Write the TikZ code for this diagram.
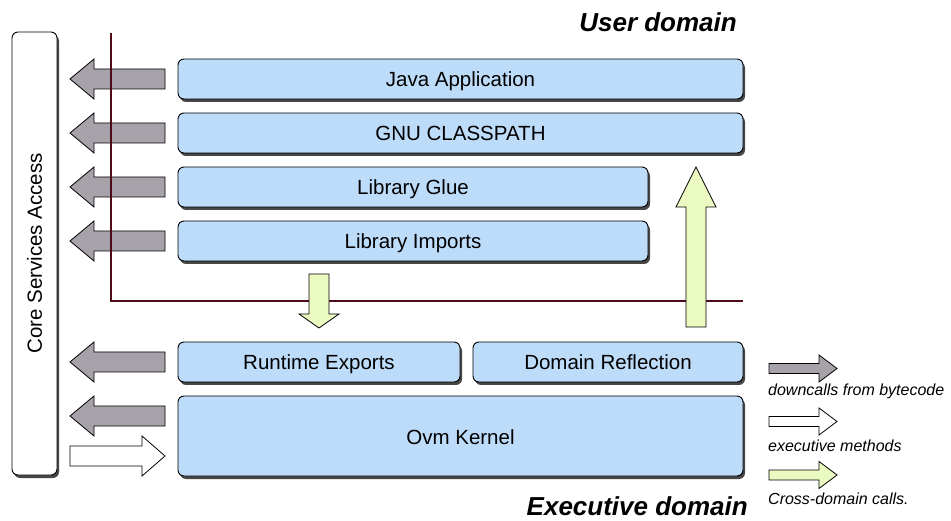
\documentclass[tikz,border=0pt]{standalone}
\usepackage{fontspec}
\setmainfont{Liberation Sans}
\usetikzlibrary{shadows}
\definecolor{boxblue}{HTML}{BDDCFA}
\definecolor{downgray}{HTML}{A7A2A9}
\definecolor{crossgreen}{HTML}{EBFAC0}
\definecolor{domline}{HTML}{4E0A16}
\tikzset{
  layerbox/.style={draw=black, line width=0.9pt, fill=boxblue, rounded corners=6pt,
    inner sep=0pt, text height=20pt, text depth=4pt, font=\fontsize{20.5}{24}\selectfont,
    drop shadow={shadow xshift=2pt, shadow yshift=-3pt, fill=black!80, opacity=0.9}},
  corebox/.style={draw=black, line width=0.9pt, fill=white, rounded corners=6pt,
    inner sep=0pt,
    drop shadow={shadow xshift=2pt, shadow yshift=-3pt, fill=black!80, opacity=0.9}},
  blkarrow/.style={draw=black, line width=0.8pt, line join=miter},
  legendtext/.style={anchor=west, inner sep=0pt, font=\fontsize{16}{19}\selectfont\itshape},
  domaintext/.style={anchor=east, inner sep=0pt, font=\fontsize{26}{30}\selectfont\bfseries\itshape},
}
% left-pointing block arrow: tip x, centre y, tail x, fill
\newcommand\blkLeft[4]{%
  \filldraw[blkarrow, fill=#4] (#1,#2) -- (#1+24,#2-20) -- (#1+24,#2-10) -- (#3,#2-10)
    -- (#3,#2+10) -- (#1+24,#2+10) -- (#1+24,#2+20) -- cycle;}
% right-pointing block arrow: tail x, centre y, tip x, head length, head half, body half, fill
\newcommand\blkRight[7]{%
  \filldraw[blkarrow, fill=#7] (#3,#2) -- (#3-#4,#2-#5) -- (#3-#4,#2-#6) -- (#1,#2-#6)
    -- (#1,#2+#6) -- (#3-#4,#2+#6) -- (#3-#4,#2+#5) -- cycle;}
% vertical block arrow: centre x, tail y, tip y, head base y, fill
\newcommand\blkVert[5]{%
  \filldraw[blkarrow, fill=#5] (#1,#3) -- (#1-20,#4) -- (#1-10,#4) -- (#1-10,#2)
    -- (#1+10,#2) -- (#1+10,#4) -- (#1+20,#4) -- cycle;}
\begin{document}
\begin{tikzpicture}[x=1pt, y=-1pt]
\useasboundingbox (0,0) rectangle (951,521);
\fill[white] (0,0) rectangle (951,521);

% core services column
\node[corebox, minimum width=45pt, minimum height=443pt] (core) at (34.5,253.5) {};
\node[rotate=90, font=\fontsize{20.5}{24}\selectfont] (coretext) at (core.center) {Core Services Access};

% layer boxes
\node[layerbox, minimum width=565pt, minimum height=40pt] (java) at (460.5,79) {Java Application};
\node[layerbox, minimum width=565pt, minimum height=40pt] (gnu) at (460.5,133) {GNU CLASSPATH};
\node[layerbox, minimum width=470pt, minimum height=40pt] (glue) at (413,187) {Library Glue};
\node[layerbox, minimum width=470pt, minimum height=40pt] (imports) at (413,241) {Library Imports};
\node[layerbox, minimum width=282pt, minimum height=40pt] (runtime) at (319,362) {Runtime Exports};
\node[layerbox, minimum width=270pt, minimum height=40pt] (reflect) at (608,362) {Domain Reflection};
\node[layerbox, minimum width=565pt, minimum height=80pt] (ovm) at (460.5,436) {Ovm Kernel};

% downcall arrows
\blkLeft{70}{79}{165}{downgray}
\blkLeft{70}{133}{165}{downgray}
\blkLeft{70}{187}{165}{downgray}
\blkLeft{70}{241}{165}{downgray}
\blkLeft{70}{362}{165}{downgray}
\blkLeft{70}{416}{165}{downgray}
% executive method arrow
\blkRight{70}{456}{165}{23}{20}{10}{white}

% domain boundary
\coordinate (ltop) at (111,33);
\coordinate (lcorner) at (111,301);
\coordinate (lend) at (743,301);
\draw[domline, line width=1.3pt] (ltop) -- (lcorner) -- (lend);

% cross-domain arrows
\blkVert{319}{274}{328}{314}{crossgreen}
\blkVert{696}{327}{167}{207}{crossgreen}

% domain labels
\node[domaintext] (user) at (737,22) {User domain};
\node[domaintext] (exec) at (748,506) {Executive domain};

% legend
\blkRight{769}{368.5}{837}{18}{13.5}{5}{downgray}
\node[legendtext] (l1) at (768,391) {downcalls from bytecode};
\blkRight{769}{421.5}{837}{18}{13.5}{5}{white}
\node[legendtext] (l2) at (768,446) {executive methods};
\blkRight{769}{475}{837}{18}{13.5}{5}{crossgreen}
\node[legendtext] (l3) at (768,499) {Cross-domain calls.};
\end{tikzpicture}
\end{document}
